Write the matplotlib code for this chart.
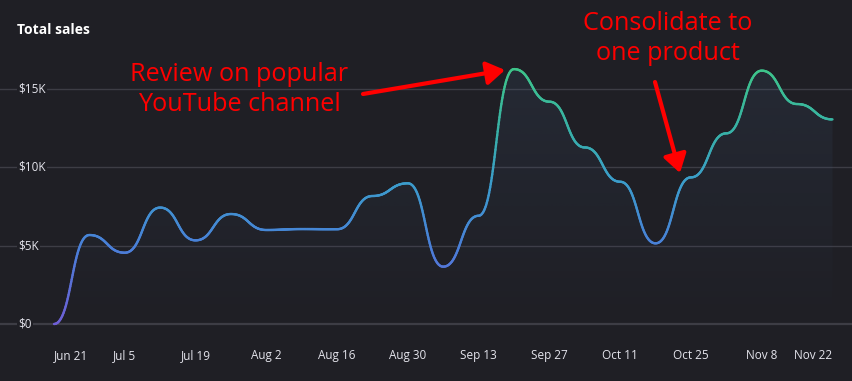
import numpy as np
import pandas as pd
import matplotlib
matplotlib.use("Agg")
import matplotlib.pyplot as plt
from matplotlib.collections import LineCollection
from matplotlib.colors import LinearSegmentedColormap
from matplotlib.patches import FancyArrowPatch, Polygon

# ---- data ----
start_date = "2023-06-21"
sales_k = [0.0, 5.68, 4.55, 7.43, 5.34, 7.02, 6.00, 6.06, 6.05, 8.17, 8.98, 3.66,
           6.91, 16.27, 14.19, 11.27, 9.08, 5.15, 9.36, 12.17, 16.17, 14.04, 13.06]
y_ticks = [0, 5, 10, 15]
y_labels = ["$0", "$5K", "$10K", "$15K"]
x_tick_labels = ["Jun 21", "Jul 5", "Jul 19", "Aug 2", "Aug 16", "Aug 30",
                 "Sep 13", "Sep 27", "Oct 11", "Oct 25", "Nov 8", "Nov 22"]
title = "Total sales"
note1 = "Review on popular\nYouTube channel"
note2 = "Consolidate to\none product"

dates = pd.date_range(start_date, periods=len(sales_k), freq="7D")
xd = np.array([(d - dates[0]).days for d in dates], dtype=float)
yv = np.array(sales_k)

# ---- bumpX curve (horizontal tangents at each point, d3 style) ----
def bump(x, y, n=60):
    xs, ys = [], []
    for i in range(len(y) - 1):
        u = np.linspace(0, 1, n, endpoint=False)
        xm = (x[i] + x[i + 1]) / 2
        P = [(x[i], y[i]), (xm, y[i]), (xm, y[i + 1]), (x[i + 1], y[i + 1])]
        b0 = (1 - u) ** 3; b1 = 3 * u * (1 - u) ** 2; b2 = 3 * u**2 * (1 - u); b3 = u**3
        xs.append(b0 * P[0][0] + b1 * P[1][0] + b2 * P[2][0] + b3 * P[3][0])
        ys.append(b0 * P[0][1] + b1 * P[1][1] + b2 * P[2][1] + b3 * P[3][1])
    xs.append([x[-1]]); ys.append([y[-1]])
    return np.concatenate(xs), np.concatenate(ys)

xs, ys = bump(xd, yv)

# ---- figure ----
W, H = 852, 381
BG = "#1f1f25"
fig = plt.figure(figsize=(W / 100, H / 100), dpi=100, facecolor=BG)
ax = fig.add_axes([0, 0, 1, 1])
ax.set_facecolor(BG)
for sp in ax.spines.values():
    sp.set_visible(False)
ax.set_xticks([]); ax.set_yticks([])

# pixel mapping
px_per_day = (832.5 - 54) / xd[-1]
x0_px = 54
ax.set_xlim(-x0_px / px_per_day, (W - x0_px) / px_per_day)
px_per_k = (324 - 89) / 15.0
bottom_px = H - 324
ax.set_ylim(-bottom_px / px_per_k, (H - bottom_px) / px_per_k)

FONT = "Open Sans"
TXT = "#e4e4ec"

# grid lines
for yt in y_ticks:
    ax.axhline(yt, color="#3d3d45", lw=1.0 if yt else 1.6, zorder=1)

# y labels
for yt, lab in zip(y_ticks, y_labels):
    ax.text(18 / W, yt, lab, transform=ax.get_yaxis_transform(), ha="left", va="center",
            fontsize=8.5, color=TXT, family=FONT, zorder=5,
            bbox=dict(boxstyle="square,pad=0.12", fc=BG, ec="none"))

# x labels
tick_days = np.arange(len(x_tick_labels)) * 14.0
for i, (td, lab) in enumerate(zip(tick_days, x_tick_labels)):
    ha = "center"
    if i == 0:
        ha = "left"
    elif i == len(x_tick_labels) - 1:
        ha = "right"
    ax.text(td, 1 - 355.5 / H, lab, transform=ax.get_xaxis_transform(), ha=ha, va="center",
            fontsize=8.5, color=TXT, family=FONT)

# area fill gradient
poly = np.vstack([np.column_stack([xs, ys]), [[xs[-1], 0], [xs[0], 0]]])
patch = Polygon(poly, closed=True, fc="none", ec="none")
ax.add_patch(patch)
grad = np.zeros((256, 2, 4))
cols = np.array([0.28, 0.40, 0.55])
alpha = np.linspace(0.0, 0.16, 256)[:, None]
grad[:, :, :3] = cols
grad[:, :, 3] = alpha
im = ax.imshow(grad, extent=[xs[0], xs[-1], 0, 17], origin="lower", aspect="auto", zorder=2)
im.set_clip_path(patch)

# gradient line
cmap = LinearSegmentedColormap.from_list("g", [(0.0, "#6f5fd6"), (0.3, "#4a7fd8"),
                                               (0.55, "#3c9ccc"), (0.75, "#38b0a8"),
                                               (1.0, "#3ec48a")])
pts = np.column_stack([xs, ys]).reshape(-1, 1, 2)
segs = np.concatenate([pts[:-1], pts[1:]], axis=1)
lc = LineCollection(segs, cmap=cmap, norm=plt.Normalize(0, 16.3), lw=1.7, zorder=4,
                    capstyle="round", joinstyle="round")
lc.set_array((ys[:-1] + ys[1:]) / 2)
ax.add_collection(lc)

# title
fig.text(17 / W, 1 - 30 / H, title, ha="left", va="center", fontsize=10, fontweight="bold",
         color="#ffffff", family=FONT)

# annotations
RED = "#ff0000"
fig.text(239 / W, 1 - 89.5 / H, note1, ha="center", va="center", fontsize=18.2, color=RED,
         family=FONT, linespacing=1.3)
fig.text(667.5 / W, 1 - 38.5 / H, note2, ha="center", va="center", fontsize=18.2, color=RED,
         family=FONT, linespacing=1.3)

def arrow(x1, y1, x2, y2):
    a = FancyArrowPatch((x1 / W, 1 - y1 / H), (x2 / W, 1 - y2 / H), transform=fig.transFigure,
                        arrowstyle="-|>,head_length=0.55,head_width=0.35", mutation_scale=20,
                        color=RED, lw=3.0, shrinkA=0, shrinkB=0, zorder=6)
    fig.add_artist(a)

arrow(363, 94, 505, 70)
arrow(655, 82, 680, 173)

fig.savefig("out.png", dpi=100, facecolor=BG)
